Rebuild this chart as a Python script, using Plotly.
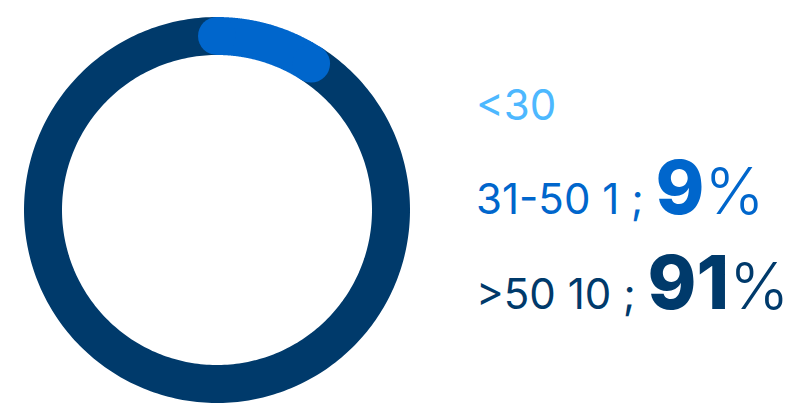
import numpy as np
import plotly.graph_objects as go

# Age groups and head counts
groups = ["<30", "31-50", ">50"]
counts = [0, 1, 10]
colors = ["#4db8ff", "#0066cc", "#003a6b"]

W, H = 790, 405
cx, cy = 217, H - 210      # ring centre (plot units = pixels, y up)
r = 174                    # radius of the ring's centre line
ring_w = 38                # ring thickness

total = sum(counts)
pct = [c / total * 100 for c in counts]


def arc(start_pct, end_pct, n=300):
    th = np.radians(np.linspace(start_pct, end_pct, n) * 3.6)
    return cx + r * np.sin(th), cy + r * np.cos(th)


fig = go.Figure()

# largest group drawn first as the base ring, smaller segments on top
cum = np.cumsum([0] + pct)
order = sorted(range(len(groups)), key=lambda i: -pct[i])
for i in order:
    if counts[i] == 0:
        continue
    x, y = arc(cum[i], cum[i + 1])
    big = pct[i] == max(pct)
    fig.add_trace(go.Scatter(x=x, y=y, mode="lines",
                             line=dict(color=colors[i], width=ring_w, simplify=False),
                             hoverinfo="skip", showlegend=False))
    if not big:
        # rounded ends for the smaller segment
        fig.add_trace(go.Scatter(x=[x[0], x[-1]], y=[y[0], y[-1]], mode="markers",
                                 marker=dict(color=colors[i], size=ring_w, line=dict(width=0)),
                                 hoverinfo="skip", showlegend=False))

# legend text on the right
font = "Inter"
baselines = [120, 222, 317]
for i, g in enumerate(groups):
    if counts[i] == 0:
        txt = g
    else:
        txt = (f"{g} {counts[i]} ; "
               f"<span style='font-size:74px;font-weight:800'>{pct[i]:.0f}</span>"
               f"<span style='font-size:64px;font-weight:300'>%</span>")
    fig.add_annotation(x=474, y=H - baselines[i] - 12, xref="x", yref="y",
                       text=txt, showarrow=False, xanchor="left", yanchor="bottom",
                       font=dict(family=font, size=42, color=colors[i]))

fig.update_layout(
    width=W, height=H, margin=dict(l=0, r=0, t=0, b=0),
    paper_bgcolor="white", plot_bgcolor="white",
    xaxis=dict(range=[0, W], visible=False, fixedrange=True),
    yaxis=dict(range=[0, H], visible=False, fixedrange=True),
)

fig.write_html("out.html")
